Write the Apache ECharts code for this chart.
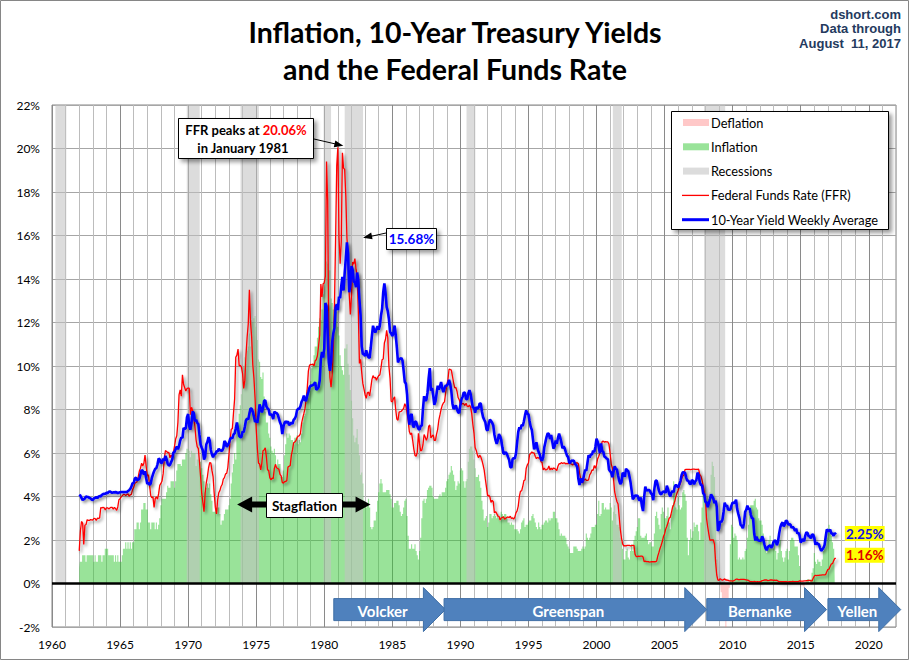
<!DOCTYPE html>
<html><head><meta charset="utf-8">
<script src="https://cdn.jsdelivr.net/npm/echarts@6/dist/echarts.min.js"></script>
<style>html,body{margin:0;padding:0;background:#fff}#c{width:910px;height:661px}</style>
</head><body><div id="c"></div>
<script>
// monthly series, first value = January 1962
const startYear = 1962;
const ffr = [
1.5,2.4,2.85,2.78,1.8,2.68,2.71,2.93,2.9,2.9,2.94,2.93,
2.92,3,2.98,2.9,3,2.99,3.02,3.49,3.48,3.5,3.48,3.38,
3.48,3.48,3.43,3.47,3.5,3.5,3.42,3.5,3.45,3.36,3.52,3.85,
3.9,3.98,4.04,4.09,4.1,4.04,4.09,4.12,4.01,4.08,4.1,4.32,
4.42,4.6,4.65,4.67,4.9,5.17,5.3,5.53,5.4,5.53,5.9,5.4,
4.94,5,4.53,4.05,3.94,3.98,3.5,3.9,3.99,3.88,4.13,4.51,
4.6,4.71,5.05,5.76,6.11,6.07,6.02,6.03,5.78,5.91,5.82,6.02,
6.3,6.64,6.79,7.41,8.67,8.9,8.61,9.6,9.15,9,8.85,8.97,
8.98,8.98,7.76,8.1,7.94,7.6,7.21,6.61,6.29,6.2,5.6,4.9,
4.14,3.72,3.3,4.15,4.63,4.91,5.31,5.56,5.55,5.2,4.91,4.14,
3.5,3.2,3.83,4.17,4.27,4.46,4.55,4.8,4.87,5.04,5.06,5.33,
5.94,6.58,7.09,7.12,7.84,8.49,10.4,10.5,10.78,10.01,10.03,9.95,
9.65,8.97,9.35,10.51,11.31,11.93,13.5,12.01,11.34,10.06,9.45,8.53,
7.13,6.24,5.54,5.49,5.22,5.55,6.1,6.14,6.24,5.82,5.22,5.2,
4.87,4.77,4.84,4.82,5.29,5.48,5.31,5.29,5.25,5.02,4.95,4.65,
4.61,4.68,4.69,4.73,5.35,5.39,5.42,5.9,6.14,6.47,6.51,6.56,
6.7,6.78,6.79,6.89,7.36,7.6,7.81,8.04,8.45,8.96,9.76,10.03,
10.07,10.06,10.09,10.01,10.24,10.29,10.47,10.94,11.43,13.77,13.18,13.78,
13.82,14.13,19.4,17.61,10.98,9.47,9.03,9.61,10.87,12.81,15.85,19.2,
20.06,15.93,14.7,15.72,19.8,19.1,19.04,17.82,15.87,15.08,13.31,12.37,
13.22,14.78,14.68,14.94,14.45,14.15,12.59,10.12,10.31,9.71,9.2,8.95,
8.68,8.51,8.77,8.8,8.63,8.98,9.37,9.56,9.45,9.48,9.34,9.47,
9.56,9.59,9.91,10.29,10.32,11.06,11.23,11.64,11.3,9.99,9.43,8.38,
8.35,8.5,8.58,7.99,7.56,7.51,7.88,7.9,7.92,7.99,8.05,8.27,
8.14,7.86,7.48,6.99,6.85,6.92,6.56,6.17,5.89,5.85,6.04,6.91,
6.43,6.1,6.13,6.37,6.85,6.73,6.58,6.73,7.22,7.29,6.69,6.77,
6.83,6.58,6.58,6.87,7.09,7.51,7.75,8.01,8.19,8.3,8.35,8.76,
9.12,9.36,9.85,9.84,9.81,9.53,9.24,8.99,9.02,8.84,8.55,8.45,
8.23,8.24,8.28,8.26,8.18,8.29,8.15,8.13,8.2,8.11,7.81,7.31,
6.91,6.25,6.12,5.91,5.78,5.9,5.82,5.66,5.45,5.21,4.81,4.43,
4.03,4.06,3.98,3.73,3.82,3.76,3.25,3.3,3.22,3.1,3.09,2.92,
3.02,3.03,3.07,2.96,3,3.04,3.06,3.03,3.09,2.99,3.02,2.96,
3.05,3.25,3.34,3.56,4.01,4.25,4.26,4.47,4.73,4.76,5.29,5.45,
5.53,5.92,5.98,6.05,6.01,6,5.85,5.74,5.8,5.76,5.8,5.6,
5.56,5.22,5.31,5.22,5.24,5.27,5.4,5.22,5.3,5.24,5.31,5.29,
5.25,5.19,5.39,5.51,5.5,5.56,5.52,5.54,5.54,5.5,5.52,5.5,
5.56,5.51,5.49,5.45,5.49,5.56,5.54,5.55,5.51,5.07,4.83,4.68,
4.63,4.76,4.81,4.74,4.74,4.76,4.99,5.07,5.22,5.2,5.42,5.3,
5.45,5.73,5.85,6.02,6.27,6.53,6.54,6.5,6.52,6.51,6.51,6.4,
5.98,5.49,5.31,4.8,4.21,3.97,3.77,3.65,3.07,2.49,2.09,1.82,
1.73,1.74,1.73,1.75,1.75,1.75,1.73,1.74,1.75,1.75,1.34,1.24,
1.24,1.26,1.25,1.26,1.26,1.22,1.01,1.03,1.01,1.01,1,0.98,
1,1.01,1,1,1,1.03,1.26,1.43,1.61,1.76,1.93,2.16,
2.28,2.5,2.63,2.79,3,3.04,3.26,3.5,3.62,3.78,4,4.16,
4.29,4.49,4.59,4.79,4.94,4.99,5.24,5.25,5.25,5.25,5.25,5.24,
5.25,5.26,5.26,5.25,5.25,5.25,5.26,5.02,4.94,4.76,4.49,4.24,
3.94,2.98,2.61,2.28,1.98,2,2.01,2,1.81,0.97,0.39,0.16,
0.15,0.22,0.18,0.15,0.18,0.21,0.16,0.16,0.15,0.12,0.12,0.12,
0.11,0.13,0.16,0.2,0.2,0.18,0.18,0.19,0.19,0.19,0.19,0.18,
0.17,0.16,0.14,0.1,0.09,0.09,0.07,0.1,0.08,0.07,0.08,0.07,
0.08,0.1,0.13,0.14,0.16,0.16,0.16,0.13,0.14,0.16,0.16,0.16,
0.14,0.15,0.14,0.15,0.11,0.09,0.09,0.08,0.08,0.09,0.08,0.09,
0.07,0.07,0.08,0.09,0.09,0.1,0.09,0.09,0.09,0.09,0.09,0.12,
0.11,0.11,0.11,0.12,0.12,0.13,0.13,0.14,0.14,0.12,0.12,0.24,
0.34,0.38,0.36,0.37,0.37,0.38,0.39,0.4,0.4,0.4,0.41,0.54,
0.65,0.66,0.79,0.9,0.91,1.04,1.15,1.16];
const tenYear = [
4.08,4.04,3.93,3.84,3.87,3.91,4.01,3.98,3.98,3.93,3.92,3.86,
3.83,3.92,3.93,3.97,3.93,3.99,4.02,4,4.08,4.11,4.12,4.13,
4.17,4.15,4.22,4.23,4.2,4.17,4.19,4.19,4.2,4.19,4.15,4.18,
4.19,4.21,4.21,4.2,4.21,4.21,4.2,4.25,4.29,4.35,4.45,4.62,
4.61,4.83,4.87,4.75,4.78,4.81,5.02,5.22,5.18,5.01,5.16,4.84,
4.58,4.63,4.54,4.59,4.85,5.02,5.16,5.28,5.3,5.48,5.75,5.7,
5.53,5.56,5.74,5.64,5.87,5.72,5.5,5.42,5.46,5.58,5.7,6.03,
6.04,6.19,6.3,6.17,6.32,6.57,6.72,6.69,7.16,7.1,7.14,7.65,
7.79,7.24,7.07,7.39,7.91,7.84,7.46,7.53,7.39,7.33,6.84,6.39,
6.24,6.11,5.7,5.83,6.39,6.52,6.73,6.58,6.14,5.93,5.81,5.93,
5.95,6.08,6.07,6.19,6.13,6.11,6.11,6.21,6.55,6.48,6.28,6.36,
6.46,6.64,6.71,6.67,6.85,6.9,7.13,7.4,7.09,6.79,6.73,6.74,
6.99,6.96,7.21,7.51,7.58,7.54,7.81,8.04,8.04,7.9,7.68,7.43,
7.5,7.39,7.73,8.23,8.06,7.86,8.06,8.4,8.43,8.14,8.05,8,
7.74,7.79,7.73,7.56,7.9,7.86,7.83,7.77,7.59,7.41,7.29,6.87,
7.21,7.39,7.46,7.37,7.46,7.28,7.33,7.4,7.34,7.52,7.58,7.69,
7.96,8.03,8.04,8.15,8.35,8.46,8.64,8.41,8.42,8.64,8.81,9.01,
9.1,9.1,9.12,9.18,9.25,8.91,8.95,9.03,9.33,10.3,10.65,10.39,
10.8,12.9,12.75,11.47,10.18,9.78,10.25,11.1,11.51,11.75,12.68,12.84,
12.57,13.19,13.12,13.68,14.1,13.47,14.28,14.94,15.68,15.15,13.39,13.72,
14.59,14.43,13.86,13.87,13.62,14.3,13.95,13.06,12.34,10.91,10.55,10.54,
10.46,10.72,10.51,10.4,10.38,10.85,11.38,11.85,11.65,11.54,11.69,11.83,
11.67,11.84,12.32,12.63,13.41,13.8,13.36,12.72,12.52,12.16,11.57,11.5,
11.38,11.51,11.86,11.43,10.85,10.16,10.31,10.33,10.37,10.24,9.78,9.26,
9.19,8.7,7.78,7.3,7.71,7.8,7.3,7.17,7.45,7.43,7.25,7.11,
7.08,7.25,7.25,8.02,8.61,8.4,8.45,8.76,9.42,9.9,8.86,8.99,
8.67,8.21,8.37,8.72,9.09,8.92,9.06,9.26,8.98,8.8,8.96,9.11,
9.09,9.17,9.36,9.18,8.86,8.28,8.02,8.11,8.19,8.01,7.87,7.84,
8.21,8.47,8.59,8.79,8.76,8.48,8.47,8.75,8.89,8.72,8.39,8.08,
8.09,7.85,8.11,8.04,8.07,8.28,8.27,7.9,7.65,7.53,7.42,7.09,
7.03,7.34,7.54,7.48,7.39,7.26,6.84,6.59,6.42,6.59,6.87,6.77,
6.6,6.26,5.98,5.97,6.04,5.96,5.81,5.68,5.36,5.33,5.72,5.77,
5.75,5.97,6.48,6.97,7.18,7.1,7.3,7.24,7.46,7.74,7.96,7.81,
7.78,7.47,7.2,7.06,6.63,6.17,6.28,6.49,6.2,6.04,5.93,5.71,
5.65,5.81,6.27,6.51,6.74,6.91,6.87,6.64,6.83,6.53,6.2,6.3,
6.58,6.42,6.69,6.89,6.71,6.49,6.22,6.3,6.21,6.03,5.88,5.81,
5.54,5.57,5.65,5.64,5.65,5.5,5.46,5.34,4.81,4.53,4.83,4.65,
4.72,5,5.23,5.18,5.54,5.9,5.79,5.94,5.92,6.11,6.03,6.28,
6.66,6.52,6.26,5.99,6.44,6.1,6.05,5.83,5.8,5.74,5.72,5.24,
5.16,5.1,4.89,5.14,5.39,5.28,5.24,4.97,4.73,4.57,4.65,5.09,
5.04,4.91,5.28,5.21,5.16,4.93,4.65,4.26,3.87,3.94,4.05,4.03,
4.05,3.9,3.81,3.96,3.57,3.33,3.98,4.45,4.27,4.29,4.3,4.27,
4.15,4.08,3.83,4.35,4.72,4.73,4.5,4.28,4.13,4.1,4.19,4.23,
4.22,4.17,4.5,4.34,4.14,4,4.18,4.26,4.2,4.46,4.54,4.47,
4.42,4.57,4.72,4.99,5.11,5.11,5.09,4.88,4.72,4.73,4.6,4.56,
4.76,4.72,4.56,4.69,4.75,5.1,5,4.67,4.52,4.53,4.15,4.1,
3.74,3.74,3.51,3.68,3.88,4.1,4.01,3.89,3.69,3.81,3.53,2.42,
2.52,2.87,2.82,2.93,3.29,3.72,3.56,3.59,3.4,3.39,3.4,3.59,
3.73,3.69,3.73,3.85,3.42,3.2,3.01,2.7,2.65,2.54,2.76,3.29,
3.39,3.58,3.41,3.46,3.17,3,3,2.3,1.98,2.15,2.01,1.98,
1.97,1.97,2.17,2.05,1.8,1.62,1.53,1.68,1.72,1.75,1.65,1.72,
1.91,1.98,1.96,1.76,1.93,2.3,2.58,2.74,2.81,2.62,2.72,2.9,
2.86,2.71,2.72,2.71,2.56,2.6,2.54,2.42,2.53,2.3,2.33,2.21,
1.88,1.98,2.04,1.94,2.2,2.36,2.32,2.17,2.17,2.07,2.26,2.24,
2.09,1.78,1.89,1.81,1.81,1.64,1.5,1.56,1.63,1.76,2.14,2.49,
2.43,2.42,2.48,2.3,2.3,2.19,2.32,2.25];
const cpi = [
0.7,1,1,1.3,1.3,1.3,1,1.3,1.3,1.3,1.3,1.3,
1.3,1,1.3,1,1,1.3,1.3,1.3,1,1.3,1.3,1.6,
1.6,1.6,1.3,1.3,1.3,1.3,1.3,1,1.3,1,1.3,1,
1,1,1.3,1.6,1.6,1.9,1.6,1.9,1.6,1.9,1.6,1.9,
1.9,2.5,2.5,2.8,2.8,2.5,2.8,3.4,3.4,3.7,3.7,3.4,
3.4,2.8,2.8,2.5,2.8,2.8,2.8,2.5,2.8,2.5,2.7,3,
3.6,3.9,3.9,3.9,3.9,4.2,4.5,4.4,4.4,4.7,4.7,4.7,
4.4,4.7,5.2,5.5,5.5,5.5,5.4,5.7,5.7,5.7,6,6.2,
6.2,6.1,5.8,6.1,6,6,6,5.4,5.7,5.7,5.6,5.6,
5.3,5,4.7,4.2,4.4,4.6,4.4,4.6,4.1,3.8,3.3,3.3,
3.3,3.5,3.5,3.5,3.2,2.7,2.9,2.9,3.2,3.4,3.4,3.4,
3.6,3.9,4.6,5.1,5.5,6,5.7,7.4,7.4,7.8,8.2,8.7,
9.4,10,10.4,10.1,10.7,10.9,11.5,10.9,12.1,12,12.2,12.3,
11.8,11.2,10.3,10.2,9.5,9.4,9.7,8.6,7.9,7.4,7.4,6.9,
6.7,6.3,6.1,6,6.2,5.9,5.3,5.7,5.5,5.5,4.9,4.9,
5.2,5.9,6.4,6.9,6.7,6.9,6.8,6.6,6.6,6.4,6.7,6.7,
6.8,6.4,6.6,6.5,6.9,7.4,7.7,7.8,8.3,8.9,8.9,9,
9.3,9.9,10.1,10.5,10.9,10.9,11.3,11.8,12.2,12.1,12.6,13.3,
13.9,14.2,14.8,14.7,14.4,14.4,13.1,12.9,12.6,12.8,12.6,12.5,
11.8,11.4,10.5,10,9.8,9.6,10.8,10.8,11,10.1,9.6,8.9,
8.4,7.6,6.8,6.5,6.7,7.1,6.4,5.9,5,5.1,4.6,3.8,
3.7,3.5,3.6,3.9,3.5,2.6,2.5,2.6,2.9,2.9,3.3,3.8,
4.2,4.6,4.8,4.6,4.2,4.2,4.2,4.3,4.3,4.3,4.1,3.9,
3.5,3.5,3.7,3.7,3.8,3.8,3.6,3.3,3.1,3.2,3.5,3.8,
3.9,3.1,2.2,1.6,1.6,1.8,1.6,1.6,1.8,1.5,1.3,1.1,
1.5,2.1,3,3.8,3.9,3.7,3.9,4.3,4.4,4.5,4.5,4.4,
4,3.9,3.9,3.9,3.9,4,4.1,4,4.2,4.2,4.2,4.4,
4.7,4.8,5,5.1,5.4,5.2,5,4.7,4.3,4.5,4.7,4.6,
5.2,5.3,5.2,4.7,4.4,4.7,4.8,5.6,6.2,6.3,6.3,6.1,
5.7,5.3,4.9,4.9,5,4.7,4.4,3.8,3.4,2.9,3,3.1,
2.6,2.8,3.2,3.2,3,3.1,3.2,3.1,3,3.2,3,2.9,
3.3,3.2,3.1,3.2,3.2,3,2.8,2.8,2.7,2.8,2.7,2.7,
2.5,2.5,2.5,2.4,2.3,2.5,2.8,2.9,3,2.6,2.7,2.7,
2.8,2.9,2.9,3.1,3.2,3,2.8,2.6,2.5,2.8,2.6,2.5,
2.7,2.7,2.8,2.9,2.9,2.8,3,2.9,3,3,3.3,3.3,
3,3,2.8,2.5,2.2,2.3,2.2,2.2,2.2,2.1,1.8,1.7,
1.6,1.4,1.4,1.4,1.7,1.7,1.7,1.6,1.5,1.5,1.5,1.6,
1.7,1.6,1.7,2.3,2.1,2,2.1,2.3,2.6,2.6,2.6,2.7,
2.7,3.2,3.8,3.1,3.2,3.7,3.7,3.4,3.5,3.4,3.4,3.4,
3.7,3.5,2.9,3.3,3.6,3.2,2.7,2.7,2.6,2.1,1.9,1.6,
1.1,1.1,1.5,1.6,1.2,1.1,1.5,1.8,1.5,2,2.2,2.4,
2.6,3,3,2.2,2.1,2.1,2.1,2.2,2.3,2,1.8,1.9,
1.9,1.7,1.7,2.3,3.1,3.3,3,2.7,2.5,3.2,3.5,3.3,
3,3,3.1,3.5,2.8,2.5,3.2,3.6,4.7,4.3,3.5,3.4,
4,3.6,3.4,3.5,4.2,4.3,4.1,3.8,2.1,1.3,2,2.5,
2.1,2.4,2.8,2.6,2.7,2.7,2.4,2,2.8,3.5,4.3,4.1,
4.3,4,4,3.9,4.2,5,5.6,5.4,4.9,3.7,1.1,0.1,
0,0.2,-0.4,-0.7,-1.3,-1.4,-2.1,-1.5,-1.3,-0.2,1.8,2.7,
2.6,2.1,2.3,2.2,2,1.1,1.2,1.1,1.1,1.2,1.1,1.5,
1.6,2.1,2.7,3.2,3.6,3.6,3.6,3.8,3.9,3.5,3.4,3,
2.9,2.9,2.7,2.3,1.7,1.7,1.4,1.7,2,2.2,1.8,1.7,
1.6,2,1.5,1.1,1.4,1.8,2,1.5,1.2,1,1.2,1.5,
1.6,1.1,1.5,2,2.1,2.1,2,1.7,1.7,1.7,1.3,0.8,
-0.1,0,-0.1,-0.2,0,0.1,0.2,0.2,0,0.2,0.5,0.7,
1.4,1,0.9,1.1,1,1,0.8,1.1,1.5,1.6,1.7,2.1,
2.5,2.7,2.4,2.2,1.9,1.6,1.7];
const recessionStart = [1960.25, 1969.9, 1973.85, 1979.95, 1981.5, 1990.45, 2001.2, 2007.9];
const recessionEnd   = [1961.05, 1970.85, 1975.2, 1980.5, 1982.85, 1991.1, 2001.85, 2009.45];
const chairNames = ['Volcker', 'Greenspan', 'Bernanke', 'Yellen'];
const chairStart = [1980.7, 1988.8, 2008.1, 2017.0];
const chairEnd   = [1988.9, 2008.1, 2016.9, 2022.35];
const chairBandValue = -1.2;
const ffrPeakLabel = '20.06%';
const ffrPeakPoint = [1981.4, 20.1];
const yieldPeakLabel = '15.68%';
const yieldPeakPoint = [1982.85, 15.9];
const stagflationRange = [1973.6, 1983.4];
const stagflationLevel = 3.63;
const sourceLines = ['dshort.com', 'Data through', 'August  11, 2017'];

const toXY = arr => arr.map((v, i) => [startYear + i / 12, v]);
const FONT = 'Lato, "Open Sans", sans-serif';

const chart = echarts.init(document.getElementById('c'), null, {renderer: 'svg'});
const lineShadow = {shadowColor: 'rgba(0,0,0,0.45)', shadowBlur: 3, shadowOffsetX: 2, shadowOffsetY: 2};

const option = {
  animation: false,
  backgroundColor: '#fff',
  title: {text: 'Inflation, 10-Year Treasury Yields\nand the Federal Funds Rate', left: 'center', top: 8,
     textStyle: {fontFamily: FONT, fontSize: 28.5, fontWeight: 'bold', color: '#000', lineHeight: 37}},
  grid: {left: 52, right: 14, top: 105, bottom: 34, show: true, borderColor: '#868686', borderWidth: 1, backgroundColor: 'transparent'},
  xAxis: {
    type: 'value', min: 1960, max: 2022, interval: 1,
    axisLine: {show: false}, axisTick: {show: false},
    axisLabel: {fontFamily: FONT, fontSize: 12, color: '#000', margin: 11,
      formatter: v => (v % 5 === 0 ? String(v) : '')},
    splitLine: {show: true, lineStyle: {color: ['#8a8a8a', '#bcbcbc', '#bcbcbc', '#bcbcbc', '#bcbcbc'], width: 1}}
  },
  yAxis: {
    type: 'value', min: -2, max: 22, interval: 2,
    axisLine: {show: false}, axisTick: {show: false},
    axisLabel: {fontFamily: FONT, fontSize: 12, color: '#000', margin: 12, formatter: v => v + '%'},
    splitLine: {show: true, lineStyle: {color: '#a6a6a6', width: 1}}
  },
  series: [
    {name: 'Inflation', type: 'line', z: 2, data: toXY(cpi.map(v => Math.max(v, 0))), step: 'middle',
     symbol: 'none', silent: true, lineStyle: {width: 0, opacity: 0},
     areaStyle: {color: 'rgba(51,199,51,0.5)', opacity: 1},
     markLine: {silent: true, symbol: 'none', label: {show: false}, data: [{yAxis: 0}],
       lineStyle: {color: '#000', width: 2.5, type: 'solid'}}},
    {name: 'Deflation', type: 'line', z: 2, data: toXY(cpi.map(v => Math.min(v, 0))), step: 'middle',
     symbol: 'none', silent: true, lineStyle: {width: 0, opacity: 0},
     areaStyle: {color: 'rgba(255,120,120,0.4)', opacity: 1}},
    {name: 'Recessions', type: 'custom', z: 3, silent: true,
     data: recessionStart.map((s, i) => [s, recessionEnd[i]]),
     encode: {x: [0, 1]},
     renderItem: (params, api) => {
       const p0 = api.coord([api.value(0), 0]);
       const p1 = api.coord([api.value(1), 22]);
       return {type: 'rect', shape: {x: p0[0], y: p1[1], width: p1[0] - p0[0], height: p0[1] - p1[1]},
               style: {fill: 'rgba(194,194,194,0.57)'}};
     }},
    {name: 'Federal Funds Rate (FFR)', type: 'line', z: 4, data: toXY(ffr), symbol: 'none', silent: true,
     lineStyle: Object.assign({color: '#ff0000', width: 1.3}, lineShadow),
     endLabel: {show: true, distance: 9, formatter: p => p.value[1].toFixed(2) + '%', color: '#e00000',
       fontFamily: FONT, fontWeight: 'bold', fontSize: 13.5, backgroundColor: '#ffff00', padding: [1, 1, 0, 1], offset: [0, -3]}},
    {name: '10-Year Yield Weekly Average', type: 'line', z: 5, data: toXY(tenYear), symbol: 'none', silent: true,
     lineStyle: Object.assign({color: '#0000ff', width: 2.6}, lineShadow),
     endLabel: {show: true, distance: 9, formatter: p => p.value[1].toFixed(2) + '%', color: '#1010e8',
       fontFamily: FONT, fontWeight: 'bold', fontSize: 13.5, backgroundColor: '#ffff00', padding: [1, 1, 0, 1], offset: [0, -1]}},
    {name: 'Fed chairs', type: 'custom', z: 6, silent: true, clip: false,
     data: chairStart.map((s, i) => [s, chairEnd[i]]),
     encode: {x: [0, 1]},
     renderItem: (params, api) => {
       const a = api.coord([api.value(0), chairBandValue]);
       const b = api.coord([api.value(1), chairBandValue]);
       const x0 = a[0], x1 = b[0], yc = a[1];
       const hl = 22, bh = 11, hh = 22, xb = x1 - hl;
       return {type: 'group', children: [
         {type: 'polygon', shape: {points: [[x0, yc - bh], [xb, yc - bh], [xb, yc - hh], [x1, yc], [xb, yc + hh], [xb, yc + bh], [x0, yc + bh]]},
          style: {fill: '#4f81bd', stroke: '#3f6fa6', lineWidth: 1}},
         {type: 'text', x: (x0 + xb) / 2 + 4, y: yc + 1,
          style: {text: chairNames[params.dataIndex], fill: '#fff', font: 'bold 15px ' + FONT, align: 'center', verticalAlign: 'middle'}}
       ]};
     }}
  ]
};
chart.setOption(option);

const px = p => chart.convertToPixel({gridIndex: 0}, p);
function head(x1, y1, x2, y2, L, W) {
  const ang = Math.atan2(y2 - y1, x2 - x1), c = Math.cos(ang), s = Math.sin(ang);
  const bx = x2 - L * c, by = y2 - L * s;
  return [[x2, y2], [bx - W * s, by + W * c], [bx + W * s, by - W * c]];
}
const boxShadow = {shadowColor: 'rgba(0,0,0,0.4)', shadowBlur: 4, shadowOffsetX: 3, shadowOffsetY: 3};
const g = [];
// outer frame
g.push({type: 'rect', z: 0, silent: true, shape: {x: 0.5, y: 0.5, width: 908, height: 659}, style: {fill: 'none', stroke: '#868686', lineWidth: 1}});

// source text, top right
sourceLines.forEach((t, i) => {
  g.push({type: 'text', z: 100, x: 901, y: 14 + i * 14.6,
    style: {text: t, fill: '#243a5e', font: 'bold 13px "Liberation Sans", Arial, sans-serif', align: 'right', verticalAlign: 'middle'}});
});

// FFR peak annotation
const fp = px(ffrPeakPoint);
g.push({type: 'line', z: 100, shape: {x1: 314, y1: 139, x2: fp[0] - 2, y2: fp[1] - 1}, style: {stroke: '#000', lineWidth: 1}});
g.push({type: 'polygon', z: 100, shape: {points: head(314, 139, fp[0], fp[1] - 0.5, 9, 3.5)}, style: {fill: '#000'}});
g.push({type: 'rect', z: 100, shape: {x: 178.5, y: 118.5, width: 135, height: 40}, style: Object.assign({fill: '#fff', stroke: '#000', lineWidth: 1}, boxShadow)});
g.push({type: 'text', z: 101, x: 246, y: 130, style: {text: '{a|FFR peaks at }{b|' + ffrPeakLabel + '}', align: 'center', verticalAlign: 'middle',
  rich: {a: {fontFamily: FONT, fontSize: 13, fontWeight: 'bold', fill: '#000', color: '#000'}, b: {fontFamily: FONT, fontSize: 13, fontWeight: 'bold', fill: '#ff0000', color: '#ff0000'}}}});
g.push({type: 'text', z: 101, x: 243, y: 148, style: {text: 'in January 1981', fill: '#000', font: 'bold 13px ' + FONT, align: 'center', verticalAlign: 'middle'}});

// 10-year peak annotation
const yp = px(yieldPeakPoint);
g.push({type: 'line', z: 100, shape: {x1: 386, y1: 233, x2: yp[0] + 2, y2: yp[1]}, style: {stroke: '#000', lineWidth: 1}});
g.push({type: 'polygon', z: 100, shape: {points: head(386, 233, yp[0], yp[1], 9, 3.5)}, style: {fill: '#000'}});
g.push({type: 'rect', z: 100, shape: {x: 386.5, y: 228.5, width: 50, height: 21}, style: Object.assign({fill: '#fff', stroke: '#000', lineWidth: 1}, boxShadow)});
g.push({type: 'text', z: 101, x: 411.5, y: 239, style: {text: yieldPeakLabel, fill: '#0000ff', font: 'bold 13.5px ' + FONT, align: 'center', verticalAlign: 'middle'}});

// Stagflation double arrow
const sl = px([stagflationRange[0], stagflationLevel]);
const sr = px([stagflationRange[1], stagflationLevel]);
g.push({type: 'line', z: 100, shape: {x1: sl[0] + 12, y1: sl[1], x2: sr[0] - 12, y2: sr[1]}, style: {stroke: '#000', lineWidth: 6}});
g.push({type: 'polygon', z: 100, shape: {points: [[sl[0], sl[1]], [sl[0] + 15, sl[1] - 8], [sl[0] + 15, sl[1] + 8]]}, style: {fill: '#000'}});
g.push({type: 'polygon', z: 100, shape: {points: [[sr[0], sr[1]], [sr[0] - 15, sr[1] - 8], [sr[0] - 15, sr[1] + 8]]}, style: {fill: '#000'}});
g.push({type: 'rect', z: 101, shape: {x: 266.5, y: 493.5, width: 76, height: 24}, style: {fill: '#fff', stroke: '#000', lineWidth: 1}});
g.push({type: 'text', z: 102, x: 304.5, y: 506, style: {text: 'Stagflation', fill: '#000', font: 'bold 13.5px ' + FONT, align: 'center', verticalAlign: 'middle'}});

// Legend box
g.push({type: 'rect', z: 100, shape: {x: 671.5, y: 111.5, width: 217, height: 118}, style: Object.assign({fill: '#fff', stroke: '#000', lineWidth: 1}, boxShadow)});
const legendItems = [
  {label: 'Deflation', kind: 'rect', color: '#ffc8c8'},
  {label: 'Inflation', kind: 'rect', color: '#99e399'},
  {label: 'Recessions', kind: 'rect', color: '#dcdcdc'},
  {label: 'Federal Funds Rate (FFR)', kind: 'line', color: '#ff0000', w: 1.3},
  {label: '10-Year Yield Weekly Average', kind: 'line', color: '#0000ff', w: 3}
];
legendItems.forEach((it, i) => {
  const y = 122.5 + i * 24.3;
  if (it.kind === 'rect') {
    g.push({type: 'rect', z: 101, shape: {x: 683, y: y - 3.5, width: 26, height: 7}, style: {fill: it.color}});
  } else {
    g.push({type: 'line', z: 101, shape: {x1: 682, y1: y, x2: 709, y2: y}, style: {stroke: it.color, lineWidth: it.w}});
  }
  g.push({type: 'text', z: 101, x: 711, y: y, style: {text: it.label, fill: '#000', font: '12.8px ' + FONT, align: 'left', verticalAlign: 'middle'}});
});
chart.setOption({graphic: {elements: g}});
</script>
</body></html>
